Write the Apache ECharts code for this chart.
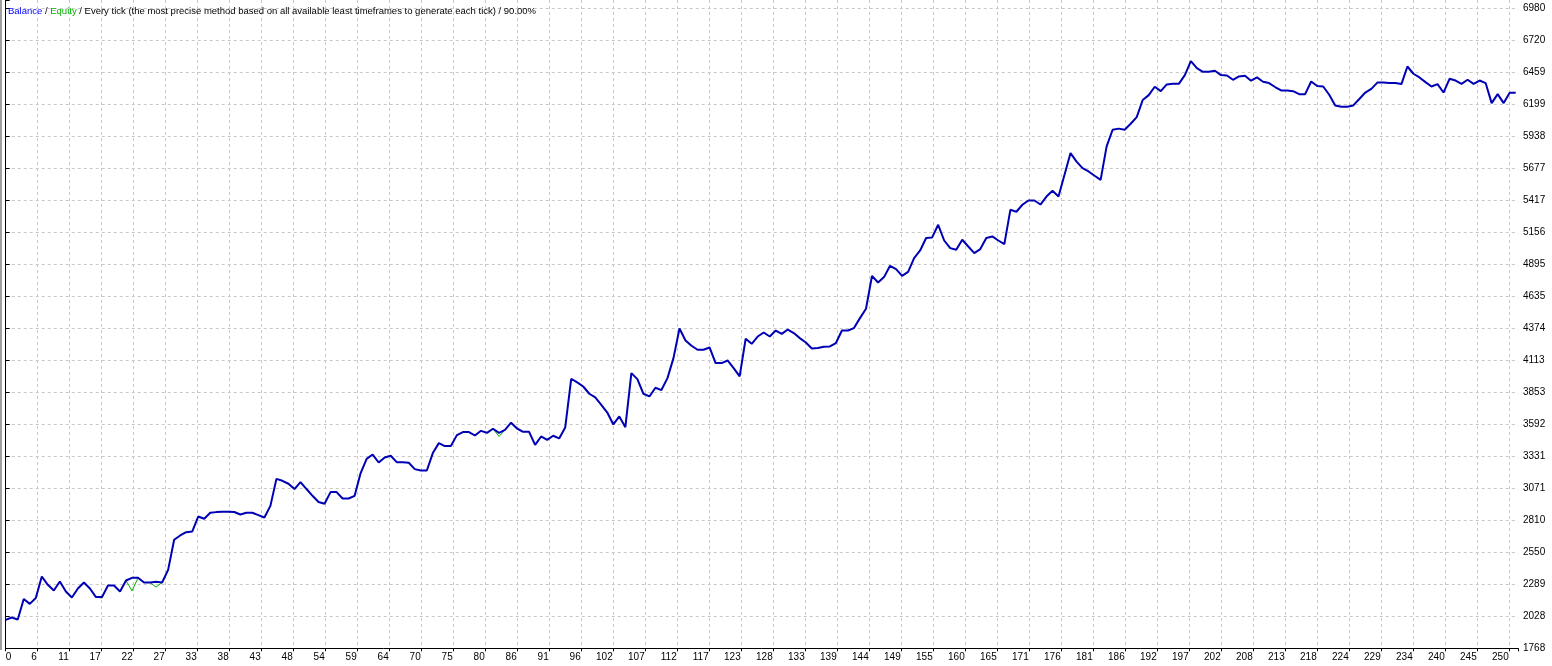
<!DOCTYPE html>
<html>
<head>
<meta charset="utf-8">
<script src="https://cdn.jsdelivr.net/npm/echarts@6/dist/echarts.min.js"></script>
<style>
html,body{margin:0;padding:0;background:#fff;}
#chart{width:1552px;height:666px;}
</style>
</head>
<body>
<div id="chart"></div>
<script>
// ---- data ----
const balance = [
2000,2019,2003,2169,2130,2177,2353,2285,2239,2312,
2231,2182,2255,2304,2255,2185,2185,2279,2279,2231,
2320,2342,2342,2304,2304,2309,2304,2407,2652,2687,
2714,2719,2841,2823,2872,2877,2880,2880,2878,2858,
2872,2872,2853,2833,2928,3148,3132,3108,3065,3122,
3065,3010,2959,2945,3040,3040,2988,2988,3010,3195,
3311,3346,3281,3322,3336,3284,3284,3279,3227,3216,
3216,3358,3439,3415,3415,3504,3529,3529,3501,3539,
3523,3556,3523,3547,3605,3558,3531,3531,3425,3493,
3466,3499,3477,3566,3963,3933,3900,3841,3811,3751,
3688,3591,3656,3569,4009,3960,3841,3819,3890,3871,
3968,4131,4372,4275,4232,4199,4199,4218,4091,4091,
4112,4050,3982,4289,4248,4307,4340,4307,4356,4329,
4364,4335,4294,4258,4210,4213,4223,4226,4254,4356,
4356,4376,4457,4533,4801,4747,4791,4883,4856,4801,
4834,4946,5008,5109,5114,5217,5089,5027,5013,5095,
5040,4986,5019,5109,5122,5089,5060,5339,5323,5380,
5415,5415,5382,5447,5494,5447,5624,5801,5732,5678,
5651,5616,5583,5855,5991,6000,5991,6040,6094,6233,
6273,6341,6306,6360,6365,6365,6436,6550,6493,6463,
6463,6471,6436,6433,6398,6425,6430,6390,6417,6382,
6371,6339,6311,6311,6305,6281,6281,6384,6347,6343,
6276,6189,6178,6178,6189,6241,6294,6324,6375,6375,
6371,6371,6363,6506,6447,6417,6379,6343,6363,6294,
6406,6392,6365,6398,6365,6392,6371,6208,6281,6208,
6292,6292
];
// equity only differs visibly from balance at a few trades
const equityTrades = [15,16,17,null,20,21,22,null,24,25,26,null,81,82,83];
const equityValues = [2185,2177,2279,null,2320,2236,2342,null,2304,2266,2304,null,3556,3493,3547];

const xTickLabels = ['0','6','11','17','22','27','33','38','43','48','54','59','64','70','75','80','86','91','96','102','107','112','117','123','128','133','139','144','149','155','160','165','171','176','181','186','192','197','202','208','213','218','224','229','234','240','245','250'];
const yTickLabels = ['1768','2028','2289','2550','2810','3071','3331','3592','3853','4113','4374','4635','4895','5156','5417','5677','5938','6199','6459','6720','6980'];

const titleParts = ['Balance', 'Equity', 'Every tick (the most precise method based on all available least timeframes to generate each tick)', '90.00%'];

// ---- chart ----
const FONT = '"Liberation Sans", Arial, sans-serif';
const yMin = 1768, yStep = 260.6;
const xStep = 250 / 47;

const balanceData = balance.map((v, i) => [i, v]);
const equityData = equityTrades.map((t, i) => t === null ? [null, null] : [t, equityValues[i]]);

const chart = echarts.init(document.getElementById('chart'), null, {renderer: 'canvas'});
chart.setOption({
  animation: false,
  backgroundColor: '#ffffff',
  title: {
    left: 8, top: 6, padding: 0,
    text: '{b|' + titleParts[0] + '} / {e|' + titleParts[1] + '} / ' + titleParts[2] + ' / ' + titleParts[3],
    textStyle: {
      fontFamily: FONT, fontSize: 9.5, fontWeight: 'normal', color: '#000',
      rich: {
        b: {color: '#0000ff', fontFamily: FONT, fontSize: 9.5},
        e: {color: '#00b000', fontFamily: FONT, fontSize: 9.5}
      }
    }
  },
  grid: {left: 5.7, right: 34, top: 0, bottom: 17.7, containLabel: false},
  xAxis: {
    type: 'value',
    min: 0, max: 251.38, interval: xStep,
    axisLine: {show: true, lineStyle: {color: '#000', width: 1}},
    axisTick: {show: true, length: 3, lineStyle: {color: '#000'}},
    axisLabel: {
      margin: 4, color: '#000', fontFamily: FONT, fontSize: 10,
      align: 'right', padding: [0, 1, 0, 0],
      alignMinLabel: 'left',
      showMinLabel: true, showMaxLabel: true,
      formatter: (v, i) => xTickLabels[i] !== undefined ? xTickLabels[i] : ''
    },
    splitLine: {show: true, showMaxLine: false, lineStyle: {color: '#c8c8c8', type: [3, 3], width: 1}}
  },
  yAxis: [{
    type: 'value', position: 'right',
    min: yMin, max: 7047.6, interval: yStep,
    axisLine: {show: true, lineStyle: {color: '#000', width: 1}},
    axisTick: {show: true, length: 4, lineStyle: {color: '#000'}},
    axisLabel: {
      margin: 5, color: '#000', fontFamily: FONT, fontSize: 10,
      formatter: (v, i) => yTickLabels[i] !== undefined ? yTickLabels[i] : ''
    },
    splitLine: {show: true, showMaxLine: false, showMinLine: false, lineStyle: {color: '#c8c8c8', type: [3, 3], width: 1}}
  }, {
    type: 'value', position: 'left',
    min: yMin, max: 7047.6, interval: yStep,
    axisLine: {show: true, onZero: false, lineStyle: {color: '#000', width: 1}},
    axisTick: {show: false}, axisLabel: {show: false}, splitLine: {show: false}
  }],
  graphic: [{
    type: 'rect', shape: {x: 0, y: 0, width: 2, height: 650},
    style: {fill: '#a0a0a0'}, silent: true
  }],
  series: [{
    name: 'Equity', type: 'line', data: equityData, yAxisIndex: 0,
    showSymbol: false, symbol: 'none', connectNulls: false,
    lineStyle: {color: '#00b000', width: 1}, z: 2
  }, {
    name: 'Balance', type: 'line', data: balanceData, yAxisIndex: 0,
    showSymbol: false, symbol: 'none',
    lineStyle: {color: '#0000b4', width: 2}, z: 3
  }]
});
</script>
</body>
</html>
